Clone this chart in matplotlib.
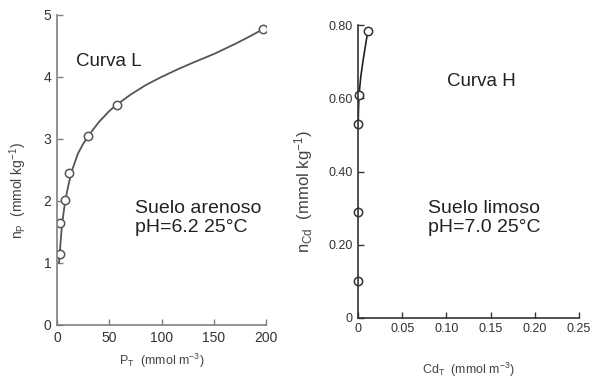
import matplotlib
matplotlib.use("Agg")
import matplotlib.pyplot as plt

# Left panel: P isotherm (sandy soil)
p_obs_x = [3, 3, 8, 12, 30, 57, 197]
p_obs_y = [1.15, 1.65, 2.02, 2.45, 3.05, 3.55, 4.78]
p_fit_x = [2, 3, 4, 5, 6.5, 8, 10, 12, 15, 20, 25, 30, 40, 50, 57, 70, 85,
           100, 115, 130, 150, 170, 185, 197]
p_fit_y = [1.0, 1.22, 1.45, 1.63, 1.83, 2.0, 2.18, 2.33, 2.52, 2.76, 2.92,
           3.05, 3.27, 3.45, 3.55, 3.71, 3.87, 4.0, 4.12, 4.23, 4.37, 4.53,
           4.66, 4.77]
p_xticks = [0, 50, 100, 150, 200]
p_yticks = [0, 1, 2, 3, 4, 5]

# Right panel: Cd isotherm (silty soil)
cd_obs_x = [0.0, 0.0, 0.0, 0.001, 0.011]
cd_obs_y = [0.10, 0.29, 0.53, 0.61, 0.785]
cd_fit_x = [0.0, 0.0005, 0.001, 0.003, 0.006, 0.009, 0.011]
cd_fit_y = [0.53, 0.58, 0.61, 0.66, 0.71, 0.755, 0.785]
cd_xticks = [0, 0.05, 0.10, 0.15, 0.20, 0.25]
cd_xlabels = ["0", "0.05", "0.10", "0.15", "0.20", "0.25"]
cd_yticks = [0, 0.2, 0.4, 0.6, 0.8]
cd_ylabels = ["0", "0.20", "0.40", "0.60", "0.80"]

plt.rcParams["mathtext.default"] = "regular"
plain = ["Liberation Sans", "DejaVu Sans"]

fig = plt.figure(figsize=(5.93, 3.92), dpi=100)
ax1 = fig.add_axes([0.096, 0.171, 0.353, 0.791])
ax2 = fig.add_axes([0.604, 0.189, 0.372, 0.747])

def style(ax, col, size):
    for s in ["top", "right"]:
        ax.spines[s].set_visible(False)
    for s in ["left", "bottom"]:
        ax.spines[s].set_color(col)
        ax.spines[s].set_linewidth(1.2)
    ax.tick_params(direction="in", length=4, width=1, color=col,
                   labelsize=size, labelcolor="#333333", pad=4)
    for lab in ax.get_xticklabels() + ax.get_yticklabels():
        lab.set_family(plain)

# left
ax1.plot(p_fit_x, p_fit_y, color="#555555", lw=1.3)
ax1.plot(p_obs_x, p_obs_y, "o", mfc="white", mec="#555555", ms=6, mew=1.1)
ax1.set_xlim(0, 200)
ax1.set_ylim(0, 5)
ax1.set_xticks(p_xticks)
ax1.set_yticks(p_yticks)
style(ax1, "#808080", 10)
ax1.set_xlabel("$P_T$  (mmol m$^{-3}$)", fontsize=9, color="#444444",
               family=plain, labelpad=5)
ax1.set_ylabel("$n_P$  (mmol kg$^{-1}$)", fontsize=10, color="#444444",
               family=plain)
ax1.yaxis.set_label_coords(-0.135, 0.435)

# right
ax2.plot(cd_fit_x, cd_fit_y, color="#222222", lw=1.2)
ax2.plot(cd_obs_x, cd_obs_y, "o", mfc="white", mec="#333333", ms=6, mew=1.1,
         clip_on=False)
ax2.set_xlim(0, 0.25)
ax2.set_ylim(0, 0.8)
ax2.set_xticks(cd_xticks, cd_xlabels)
ax2.set_yticks(cd_yticks, cd_ylabels)
style(ax2, "#333333", 9)
ax2.set_xlabel("$Cd_T$  (mmol m$^{-3}$)", fontsize=9, color="#444444",
               family=plain, labelpad=18)
ax2.set_ylabel("$n_{Cd}$  (mmol kg$^{-1}$)", fontsize=12, color="#444444",
               family=plain)
ax2.yaxis.set_label_coords(-0.196, 0.43)

# annotations
fig.text(0.184, 0.844, "Curva L", fontsize=13.5, family=plain,
         ha="center", va="center", color="#222222")
fig.text(0.228, 0.444, "Suelo arenoso\npH=6.2 25°C", fontsize=14,
         family=plain, ha="left", va="center", color="#222222", linespacing=1.1)
fig.text(0.811, 0.791, "Curva H", fontsize=13.5, family=plain,
         ha="center", va="center", color="#222222")
fig.text(0.722, 0.444, "Suelo limoso\npH=7.0 25°C", fontsize=14,
         family=plain, ha="left", va="center", color="#222222", linespacing=1.1)

fig.savefig("out.png", dpi=100)
